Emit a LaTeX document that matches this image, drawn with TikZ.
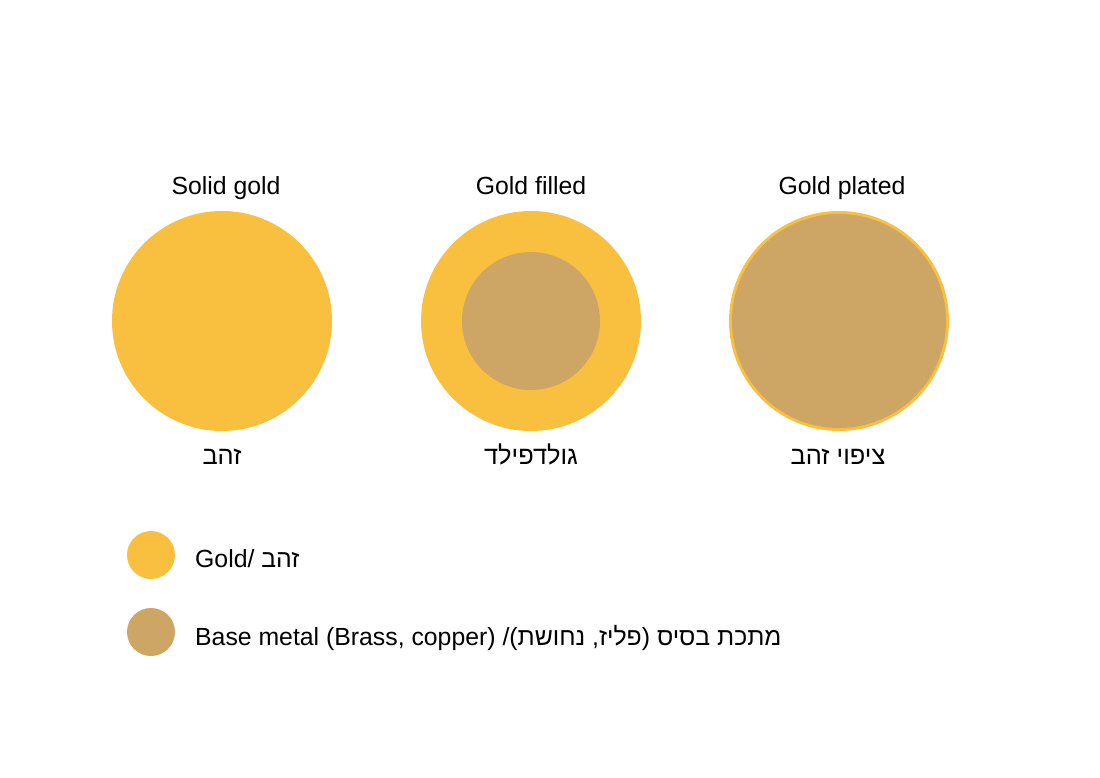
\documentclass[tikz,border=0pt]{standalone}
\usepackage{fontspec}
\setmainfont{Liberation Sans}
\newfontfamily\hebfont[Script=Hebrew]{Liberation Sans}
\TeXXeTstate=1
\definecolor{gold}{RGB}{249,192,64}
\definecolor{basemetal}{RGB}{205,165,101}
\begin{document}
\begin{tikzpicture}[x=1pt,y=-1pt,
  goldfill/.style={fill=gold,draw=none},
  basefill/.style={fill=basemetal,draw=none},
  title/.style={anchor=base,font=\fontsize{24.8}{28}\selectfont,inner sep=0pt},
  heblabel/.style={anchor=base,font=\fontsize{25.4}{28}\selectfont\hebfont,inner sep=0pt},
  legtext/.style={anchor=base west,font=\fontsize{24.8}{28}\selectfont,inner sep=0pt}]
\useasboundingbox[fill=white] (0,0) rectangle (1100,778);
% Solid gold
\fill[goldfill] (222,321) circle (110);
% Gold filled
\fill[goldfill] (531,321) circle (110);
\fill[basefill] (531,321) circle (69);
% Gold plated
\fill[goldfill] (839,321) circle (110);
\fill[basefill] (839,321) circle (107);
% titles
\node[title] (t1) at (226,195) {Solid gold};
\node[title] (t2) at (531,195) {Gold filled};
\node[title] (t3) at (842,195) {Gold plated};
% hebrew labels
\node[heblabel] (h1) at (222,464) {\beginR זהב\endR};
\node[heblabel] (h2) at (531,464) {\beginR גולדפילד\endR};
\node[heblabel] (h3) at (838,464) {\beginR ציפוי זהב\endR};
% legend
\fill[goldfill] (151,555) circle (24);
\fill[basefill] (151,632) circle (24);
\node[legtext] (l1) at (195,567) {Gold/ {\hebfont\beginR זהב\endR}};
\node[legtext] (l2) at (195,645) {Base metal (Brass, copper) /{\hebfont\beginR מתכת בסיס (פליז, נחושת)\endR}};
\end{tikzpicture}
\end{document}
